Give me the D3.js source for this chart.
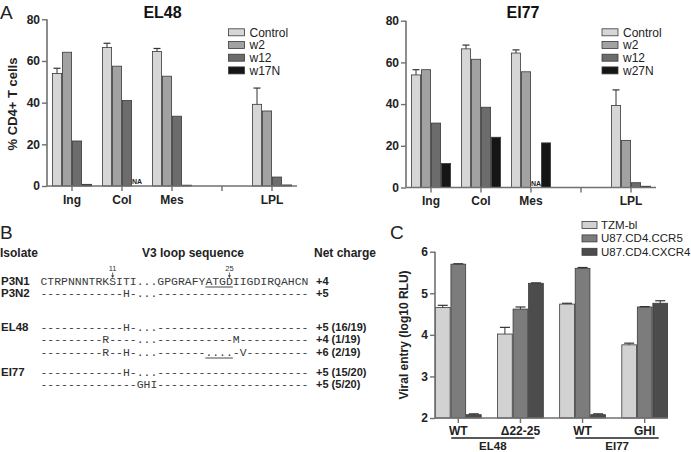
<!DOCTYPE html>
<html><head><meta charset="utf-8">
<script src="https://cdn.jsdelivr.net/npm/d3@7"></script>
<style>
body{margin:0;background:#fff}
svg{display:block}
text{font-family:"Liberation Sans",Arial,Helvetica,sans-serif}
text.mono{font-family:"Liberation Mono","Courier New",monospace}
</style>
</head><body>
<svg id="c" width="691" height="452"></svg>
<script>
// ---------- DATA ----------
const catsA = ["Ing", "Col", "Mes", "", "LPL"];
const yTicksA = [0, 20, 40, 60, 80];

const seriesEL48 = ["Control", "w2", "w12", "w17N"];
const el48Control = [54, 66.5, 64.5, null, 39.2];
const el48ControlErr = [56.5, 68.5, 66, null, 47];
const el48W2 = [64.2, 57.5, 52.7, null, 36];
const el48W12 = [21.6, 41, 33.5, null, 4.3];
const el48W17N = [0.8, null, 0.4, null, 0.5];
const el48NA = [["Col", "w17N"]];

const seriesEI77 = ["Control", "w2", "w12", "w27N"];
const ei77Control = [54, 66.5, 64.5, null, 39.3];
const ei77ControlErr = [56.5, 68.3, 66, null, 46.8];
const ei77W2 = [56.5, 61.5, 55.5, null, 22.6];
const ei77W12 = [30.9, 38.5, null, null, 2.3];
const ei77W27N = [11.5, 24.1, 21.4, null, 0.6];
const ei77NA = [["Mes", "w12"]];

// Panel B
const seqRows = [
  {label: "P3N1", seq: "CTRPNNNTRKSITI...GPGRAFYATGDIIGDIRQAHCN", charge: "+4"},
  {label: "P3N2", seq: "------------H-...----------------------", charge: "+5"},
  {label: "EL48", seq: "------------H-...----------------------", charge: "+5 (16/19)"},
  {label: "",     seq: "---------R----...-----------M----------", charge: "+4 (1/19)"},
  {label: "",     seq: "---------R--H-...-------....-V---------", charge: "+6 (2/19)"},
  {label: "EI77", seq: "------------H-...----------------------", charge: "+5 (15/20)"},
  {label: "",     seq: "--------------GHI----------------------", charge: "+5 (5/20)"}
];
const seqMarks = [{pos: "11", idx: 10}, {pos: "25", idx: 27}];
const seqUnderlines = [{row: 0, from: 24, to: 27}, {row: 4, from: 24, to: 27}];

// Panel C
const groupsC = ["EL48 WT", "EL48 Δ22-25", "EI77 WT", "EI77 GHI"];
const groupLabelsC = ["WT", "Δ22-25", "WT", "GHI"];
const seriesC = ["TZM-bl", "U87.CD4.CCR5", "U87.CD4.CXCR4"];
const cTZM = [4.66, 4.02, 4.74, 3.76];
const cTZMErr = [4.71, 4.18, 4.76, 3.80];
const cCCR5 = [5.70, 4.62, 5.60, 4.67];
const cCCR5Err = [5.71, 4.67, 5.62, 4.68];
const cCXCR4 = [2.08, 5.24, 2.08, 4.76];
const cCXCR4Err = [2.10, 5.25, 2.10, 4.82];
const yTicksC = [2, 3, 4, 5, 6];
const isolatesC = [{name: "EL48", groups: ["EL48 WT", "EL48 Δ22-25"]}, {name: "EI77", groups: ["EI77 WT", "EI77 GHI"]}];

// ---------- STYLE ----------
const colorsA = ["#d6d6d6", "#a2a2a2", "#6c6c6c", "#151515"];
const colorsC = ["#d2d2d2", "#7c7c7c", "#4c4c4c"];
const axisColor = "#707070";
const barStroke = "#3a3a3a";

const svg = d3.select("#c");
svg.append("rect").attr("width", 691).attr("height", 452).attr("fill", "#fff");

function styleAxis(g) {
  g.select(".domain").attr("stroke", axisColor).attr("stroke-width", 1.6);
  g.selectAll(".tick line").attr("stroke", axisColor).attr("stroke-width", 1.4);
  g.selectAll(".tick text").attr("font-size", 12).attr("font-weight", "bold").attr("fill", "#222");
}

function barPanel(cfg) {
  const g = svg.append("g");
  const x = d3.scaleBand().domain(catsA).range([cfg.x0, cfg.x1]).paddingInner(0.2).paddingOuter(0.1);
  const xs = d3.scaleBand().domain(cfg.series).range([0, x.bandwidth()]);
  const y = d3.scaleLinear().domain([0, 80]).range([cfg.yb, cfg.yt]);

  cfg.series.forEach((s, i) => {
    const vals = cfg.values[i];
    catsA.forEach((c, j) => {
      if (vals[j] == null) return;
      g.append("rect")
        .attr("x", x(c) + xs(s) + 0.4).attr("y", y(vals[j]))
        .attr("width", xs.bandwidth() - 0.8).attr("height", y(0) - y(vals[j]))
        .attr("fill", colorsA[i]).attr("stroke", barStroke).attr("stroke-width", 0.8);
    });
  });
  catsA.forEach((c, j) => {
    const v = cfg.values[0][j], e = cfg.err[j];
    if (v == null || e == null) return;
    const cx = x(c) + xs(cfg.series[0]) + xs.bandwidth() / 2;
    g.append("line").attr("x1", cx).attr("x2", cx).attr("y1", y(v)).attr("y2", y(e)).attr("stroke", "#333").attr("stroke-width", 1);
    g.append("line").attr("x1", cx - 3.5).attr("x2", cx + 3.5).attr("y1", y(e)).attr("y2", y(e)).attr("stroke", "#333").attr("stroke-width", 1.2);
  });
  cfg.na.forEach(([c, s]) => {
    g.append("text").attr("x", x(c) + xs(s) + xs.bandwidth() / 2).attr("y", y(0) - 2)
      .attr("text-anchor", "middle").attr("font-size", 7).attr("font-weight", "bold").attr("fill", "#222").text("NA");
  });

  const ya = g.append("g").attr("transform", `translate(${cfg.x0},0)`)
    .call(d3.axisLeft(y).tickValues(yTicksA).tickSize(5).tickSizeOuter(0).tickPadding(2));
  styleAxis(ya);
  ya.select(".domain").attr("d", `M0,${y(0)}V${y(80)}`);
  const xa = g.append("g").attr("transform", `translate(0,${y(0)})`)
    .call(d3.axisBottom(x).tickSize(5).tickSizeOuter(0).tickPadding(4));
  styleAxis(xa);
  xa.select(".domain").attr("d", `M${cfg.x0},0H${cfg.x1}`);

  g.append("text").attr("x", cfg.titleX).attr("y", 18).attr("text-anchor", "middle")
    .attr("font-size", 16).attr("font-weight", "bold").attr("fill", "#111").text(cfg.title);

  const lg = g.append("g");
  cfg.series.forEach((s, i) => {
    const ly = 32.3 + i * 12.7;
    lg.append("rect").attr("x", cfg.legX).attr("y", ly - 3.5).attr("width", 16).attr("height", 7)
      .attr("fill", colorsA[i]).attr("stroke", barStroke).attr("stroke-width", 0.8);
    lg.append("text").attr("x", cfg.legX + 21).attr("y", ly + 4.3).attr("font-size", 12).attr("fill", "#222").text(s);
  });
}

barPanel({x0: 47, x1: 297, yb: 186, yt: 19.3, series: seriesEL48,
  values: [el48Control, el48W2, el48W12, el48W17N], err: el48ControlErr, na: el48NA,
  title: "EL48", titleX: 162.5, legX: 228.5});
barPanel({x0: 406, x1: 656, yb: 187.5, yt: 20.7, series: seriesEI77,
  values: [ei77Control, ei77W2, ei77W12, ei77W27N], err: ei77ControlErr, na: ei77NA,
  title: "EI77", titleX: 523, legX: 602});

svg.append("text").attr("transform", "translate(17,104) rotate(-90)").attr("text-anchor", "middle")
  .attr("font-size", 13).attr("font-weight", "bold").attr("fill", "#222").text("% CD4+ T cells");

[["A", 0, 19], ["B", 0, 239], ["C", 390, 239]].forEach(([t, px, py]) => {
  svg.append("text").attr("x", px).attr("y", py).attr("font-size", 19).attr("fill", "#222").text(t);
});

// ---------- PANEL B ----------
const monoFs = 11.45;
const charW = monoFs * 0.6;
const seqX = 40.5;
const rowY = [285, 297, 331, 343, 356, 376, 388];
const chargeX = 316;
const gb = svg.append("g");
gb.append("text").attr("x", 0).attr("y", 257).attr("font-size", 12).attr("font-weight", "bold").attr("fill", "#222").text("Isolate");
gb.append("text").attr("x", 193).attr("y", 257).attr("text-anchor", "middle").attr("font-size", 12).attr("font-weight", "bold").attr("fill", "#222").text("V3 loop sequence");
gb.append("text").attr("x", 314).attr("y", 257).attr("font-size", 12).attr("font-weight", "bold").attr("fill", "#222").text("Net charge");
seqRows.forEach((r, i) => {
  if (r.label) gb.append("text").attr("x", 1).attr("y", rowY[i]).attr("font-size", 11.5).attr("font-weight", "bold").attr("fill", "#222").text(r.label);
  gb.append("text").attr("class", "mono").attr("x", seqX).attr("y", rowY[i]).attr("font-size", monoFs)
    .attr("fill", "#3a3a3a")
    .attr("textLength", charW * r.seq.length).attr("lengthAdjust", "spacing").text(r.seq);
  gb.append("text").attr("x", chargeX).attr("y", rowY[i]).attr("font-size", 11).attr("font-weight", "bold").attr("fill", "#222").text(r.charge);
});
seqMarks.forEach(m => {
  const cx = seqX + (m.idx + 0.5) * charW;
  gb.append("text").attr("x", cx).attr("y", 271).attr("text-anchor", "middle").attr("font-size", 7.5).attr("fill", "#333").text(m.pos);
  gb.append("line").attr("x1", cx).attr("x2", cx).attr("y1", 272.5).attr("y2", 277).attr("stroke", "#444").attr("stroke-width", 0.8);
  gb.append("path").attr("d", `M${cx - 1.6},275.3L${cx},278L${cx + 1.6},275.3Z`).attr("fill", "#444");
});
seqUnderlines.forEach(u => {
  gb.append("line").attr("x1", seqX + u.from * charW).attr("x2", seqX + (u.to + 1) * charW)
    .attr("y1", rowY[u.row] + 2).attr("y2", rowY[u.row] + 2).attr("stroke", "#333").attr("stroke-width", 0.9);
});

// ---------- PANEL C ----------
const gc = svg.append("g");
const cx0 = 435, cx1 = 668, cyb = 418, cyt = 251.7;
const xc = d3.scaleBand().domain(groupsC).range([cx0, cx1]).paddingInner(0.25).paddingOuter(0);
const xcs = d3.scaleBand().domain(seriesC).range([0, xc.bandwidth()]);
const yc = d3.scaleLinear().domain([2, 6]).range([cyb, cyt]);
const valsC = [cTZM, cCCR5, cCXCR4];
const errC = [cTZMErr, cCCR5Err, cCXCR4Err];
seriesC.forEach((s, i) => {
  groupsC.forEach((gname, j) => {
    const v = valsC[i][j], e = errC[i][j];
    const bx = xc(gname) + xcs(s);
    gc.append("rect").attr("x", bx + 0.4).attr("y", yc(v)).attr("width", xcs.bandwidth() - 0.8)
      .attr("height", yc(2) - yc(v)).attr("fill", colorsC[i]).attr("stroke", barStroke).attr("stroke-width", 0.8);
    const mx = bx + xcs.bandwidth() / 2;
    gc.append("line").attr("x1", mx).attr("x2", mx).attr("y1", yc(v)).attr("y2", yc(e)).attr("stroke", "#333").attr("stroke-width", 1);
    gc.append("line").attr("x1", mx - 5).attr("x2", mx + 5).attr("y1", yc(e)).attr("y2", yc(e)).attr("stroke", "#333").attr("stroke-width", 1.2);
  });
});
const yca = gc.append("g").attr("transform", `translate(${cx0},0)`)
  .call(d3.axisLeft(yc).tickValues(yTicksC).tickFormat(d3.format("d")).tickSize(5).tickSizeOuter(0).tickPadding(2));
styleAxis(yca);
yca.select(".domain").attr("d", `M0,${yc(2)}V${yc(6)}`);
const xca = gc.append("g").attr("transform", `translate(0,${cyb})`)
  .call(d3.axisBottom(xc).tickSize(5).tickSizeOuter(0).tickPadding(3).tickFormat((d, i) => groupLabelsC[i]));
styleAxis(xca);
xca.select(".domain").attr("d", `M${cx0},0H${cx1}`);
isolatesC.forEach(iso => {
  const a = xc(iso.groups[0]) + xc.bandwidth() / 2 - 7;
  const b = xc(iso.groups[1]) + xc.bandwidth() / 2 + 14;
  gc.append("line").attr("x1", a).attr("x2", b).attr("y1", 438).attr("y2", 438).attr("stroke", "#222").attr("stroke-width", 1.4);
  gc.append("text").attr("x", (a + b) / 2).attr("y", 450).attr("text-anchor", "middle")
    .attr("font-size", 11.5).attr("font-weight", "bold").attr("fill", "#222").text(iso.name);
});
svg.append("text").attr("transform", "translate(408,335) rotate(-90)").attr("text-anchor", "middle")
  .attr("font-size", 12).attr("font-weight", "bold").attr("fill", "#222").text("Viral entry (log10 RLU)");
seriesC.forEach((s, i) => {
  const ly = 225 + i * 13.4;
  gc.append("rect").attr("x", 582).attr("y", ly - 3.5).attr("width", 15).attr("height", 7)
    .attr("fill", colorsC[i]).attr("stroke", barStroke).attr("stroke-width", 0.8);
  gc.append("text").attr("x", 601).attr("y", ly + 4).attr("font-size", 11.5).attr("fill", "#222").text(s);
});
</script>
</body></html>
